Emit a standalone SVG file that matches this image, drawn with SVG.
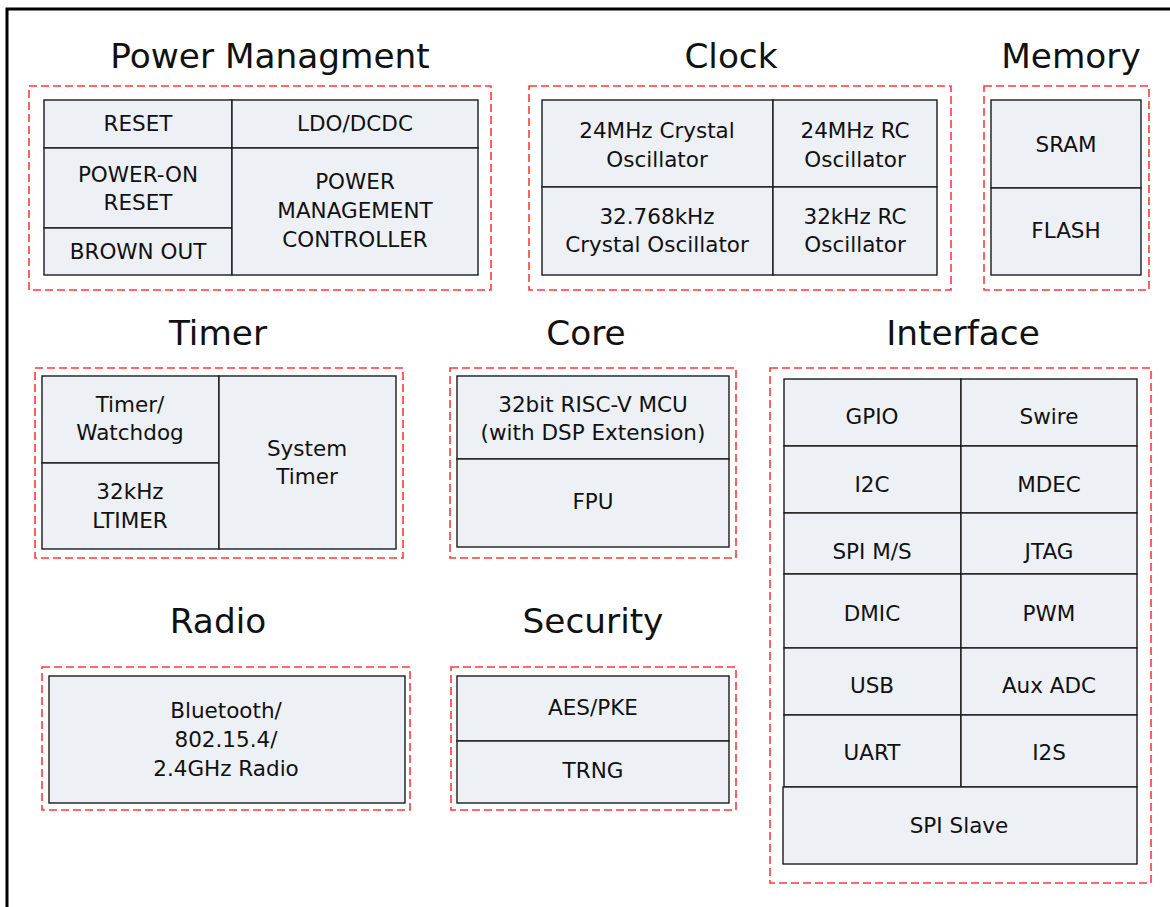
<svg xmlns="http://www.w3.org/2000/svg" width="1170" height="907" viewBox="0 0 1170 907">
<style>
.frame{fill:none;stroke:#000;stroke-width:3}
.grp{fill:none;stroke:#ff3b3b;stroke-width:1.6;stroke-dasharray:8 4}
.cell{fill:#edf0f5;stroke:#1a1a1a;stroke-width:1.4}
.title{font-family:"DejaVu Sans",sans-serif;font-size:34.3px;fill:#111;text-anchor:middle}
.t{font-family:"DejaVu Sans",sans-serif;font-size:21.5px;fill:#111;text-anchor:middle}
</style>
<rect width="1170" height="907" fill="#fff"/>
<rect class="frame" x="7" y="9" width="1200" height="1000"/>

<g id="power-management">
<text class="title" x="270" y="68">Power Managment</text>
<rect class="grp" x="29" y="86" width="462" height="204"/>
<g id="reset"><rect class="cell" x="44" y="100" width="188" height="48"/><text class="t" x="138" y="131">RESET</text></g>
<g id="ldo-dcdc"><rect class="cell" x="232" y="100" width="246" height="48"/><text class="t" x="355" y="131">LDO/DCDC</text></g>
<g id="power-on-reset"><rect class="cell" x="44" y="148" width="188" height="80"/><text class="t" x="138" y="182">POWER-ON</text><text class="t" x="138" y="210">RESET</text></g>
<g id="brown-out"><rect class="cell" x="44" y="228" width="188" height="47"/><text class="t" x="138" y="259">BROWN OUT</text></g>
<g id="pmc"><rect class="cell" x="232" y="148" width="246" height="127"/><text class="t" x="355" y="189">POWER</text><text class="t" x="355" y="218">MANAGEMENT</text><text class="t" x="355" y="247">CONTROLLER</text></g>
</g>

<g id="clock">
<text class="title" x="731" y="68">Clock</text>
<rect class="grp" x="529" y="86" width="422" height="204"/>
<g id="xtal-24m"><rect class="cell" x="542" y="100" width="231" height="87"/><text class="t" x="657" y="138">24MHz Crystal</text><text class="t" x="657" y="167">Oscillator</text></g>
<g id="rc-24m"><rect class="cell" x="773" y="100" width="164" height="87"/><text class="t" x="855" y="138">24MHz RC</text><text class="t" x="855" y="167">Oscillator</text></g>
<g id="xtal-32k"><rect class="cell" x="542" y="187" width="231" height="88"/><text class="t" x="657" y="224">32.768kHz</text><text class="t" x="657" y="252">Crystal Oscillator</text></g>
<g id="rc-32k"><rect class="cell" x="773" y="187" width="164" height="88"/><text class="t" x="855" y="224">32kHz RC</text><text class="t" x="855" y="252">Oscillator</text></g>
</g>

<g id="memory">
<text class="title" x="1071" y="68">Memory</text>
<rect class="grp" x="984" y="86" width="165" height="204"/>
<g id="sram"><rect class="cell" x="991" y="100" width="150" height="88"/><text class="t" x="1066" y="152">SRAM</text></g>
<g id="flash"><rect class="cell" x="991" y="188" width="150" height="87"/><text class="t" x="1066" y="238">FLASH</text></g>
</g>

<g id="timer">
<text class="title" x="218" y="345">Timer</text>
<rect class="grp" x="35" y="368" width="368" height="190"/>
<g id="watchdog"><rect class="cell" x="42" y="376" width="177" height="87"/><text class="t" x="130" y="412">Timer/</text><text class="t" x="130" y="440">Watchdog</text></g>
<g id="ltimer"><rect class="cell" x="42" y="463" width="177" height="86"/><text class="t" x="130" y="499">32kHz</text><text class="t" x="130" y="528">LTIMER</text></g>
<g id="system-timer"><rect class="cell" x="219" y="376" width="177" height="173"/><text class="t" x="307" y="456">System</text><text class="t" x="307" y="484">Timer</text></g>
</g>

<g id="core">
<text class="title" x="586" y="345">Core</text>
<rect class="grp" x="450" y="368" width="286" height="190"/>
<g id="mcu"><rect class="cell" x="457" y="376" width="272" height="83"/><text class="t" x="593" y="412">32bit RISC-V MCU</text><text class="t" x="593" y="440">(with DSP Extension)</text></g>
<g id="fpu"><rect class="cell" x="457" y="459" width="272" height="88"/><text class="t" x="593" y="509">FPU</text></g>
</g>

<g id="interface">
<text class="title" x="963" y="345">Interface</text>
<rect class="grp" x="770" y="368" width="381" height="515"/>
<g id="gpio"><rect class="cell" x="784" y="379" width="177" height="67"/><text class="t" x="872" y="424">GPIO</text></g>
<g id="swire"><rect class="cell" x="961" y="379" width="176" height="67"/><text class="t" x="1049" y="424">Swire</text></g>
<g id="i2c"><rect class="cell" x="784" y="446" width="177" height="67"/><text class="t" x="872" y="492">I2C</text></g>
<g id="mdec"><rect class="cell" x="961" y="446" width="176" height="67"/><text class="t" x="1049" y="492">MDEC</text></g>
<g id="spi-ms"><rect class="cell" x="784" y="513" width="177" height="61"/><text class="t" x="872" y="559">SPI M/S</text></g>
<g id="jtag"><rect class="cell" x="961" y="513" width="176" height="61"/><text class="t" x="1049" y="559">JTAG</text></g>
<g id="dmic"><rect class="cell" x="784" y="574" width="177" height="74"/><text class="t" x="872" y="621">DMIC</text></g>
<g id="pwm"><rect class="cell" x="961" y="574" width="176" height="74"/><text class="t" x="1049" y="621">PWM</text></g>
<g id="usb"><rect class="cell" x="784" y="648" width="177" height="67"/><text class="t" x="872" y="693">USB</text></g>
<g id="aux-adc"><rect class="cell" x="961" y="648" width="176" height="67"/><text class="t" x="1049" y="693">Aux ADC</text></g>
<g id="uart"><rect class="cell" x="784" y="715" width="177" height="72"/><text class="t" x="872" y="760">UART</text></g>
<g id="i2s"><rect class="cell" x="961" y="715" width="176" height="72"/><text class="t" x="1049" y="760">I2S</text></g>
<g id="spi-slave"><rect class="cell" x="783" y="787" width="354" height="77"/><text class="t" x="959" y="833">SPI Slave</text></g>
</g>

<g id="radio">
<text class="title" x="218" y="633">Radio</text>
<rect class="grp" x="42" y="667" width="368" height="143"/>
<g id="radio-cell"><rect class="cell" x="49" y="676" width="356" height="127"/><text class="t" x="226" y="718">Bluetooth/</text><text class="t" x="226" y="747">802.15.4/</text><text class="t" x="226" y="776">2.4GHz Radio</text></g>
</g>

<g id="security">
<text class="title" x="593" y="633">Security</text>
<rect class="grp" x="451" y="667" width="285" height="143"/>
<g id="aes-pke"><rect class="cell" x="457" y="676" width="272" height="65"/><text class="t" x="593" y="715">AES/PKE</text></g>
<g id="trng"><rect class="cell" x="457" y="741" width="272" height="62"/><text class="t" x="593" y="778">TRNG</text></g>
</g>

<g id="connectors"/>
</svg>
